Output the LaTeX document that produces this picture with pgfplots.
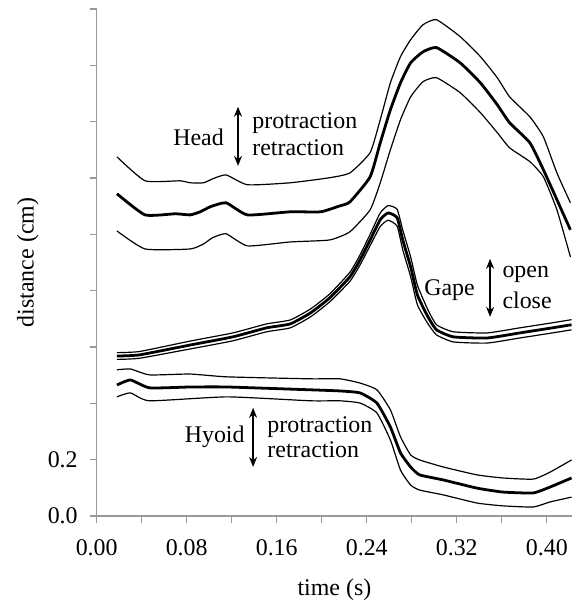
\documentclass[border=0pt]{standalone}
\usepackage{fontspec}
\setmainfont{Liberation Serif}
\usepackage{pgfplots}
\pgfplotsset{compat=1.18}
\usetikzlibrary{arrows.meta}

\begin{document}
\begin{tikzpicture}[font=\fontsize{12}{14}\selectfont]
\path[use as bounding box] (-48.35bp,-44.5bp) rectangle (239.65bp,258bp);
\begin{axis}[
  at={(0,0)}, anchor=south west,
  scale only axis, width=237.7bp, height=253.5bp,
  xmin=0, xmax=0.4225, ymin=0, ymax=1.8,
  axis lines*=left,
  axis line style={black!40, line width=0.6pt},
  tick align=outside, major tick length=3.5bp,
  tick style={black!40, line width=0.6pt},
  xtick={0,0.04,0.08,0.12,0.16,0.20,0.24,0.28,0.32,0.36,0.40},
  xticklabels={0.00,,0.08,,0.16,,0.24,,0.32,,0.40},
  ytick={0,0.2,0.4,0.6,0.8,1.0,1.2,1.4,1.6,1.8},
  yticklabels={0.0,0.2,,,,,,,,},
  tick label style={font=\fontsize{12}{14}\selectfont},
  xticklabel style={yshift=-5bp},
  yticklabel style={xshift=-2.5bp},
  xlabel={time (s)}, ylabel={distance (cm)},
  label style={font=\fontsize{12}{14}\selectfont},
  xlabel style={at={(axis description cs:0.5,-0.145)}, anchor=center},
  ylabel style={at={(axis description cs:-0.145,0.5)}, anchor=center},
  clip=false,
  band/.style={black, line width=0.6pt, line join=round, smooth, tension=0.3},
  avg/.style={black, line width=1.4pt, line join=round, smooth, tension=0.3},
]
% Head
\addplot[band] coordinates {(0.018,1.275) (0.043,1.190) (0.074,1.190) (0.083,1.183) (0.095,1.183) (0.103,1.197) (0.115,1.211) (0.134,1.176) (0.172,1.183) (0.207,1.201) (0.225,1.218) (0.243,1.290) (0.252,1.407) (0.261,1.538) (0.270,1.631) (0.279,1.691) (0.290,1.744) (0.302,1.762) (0.323,1.702) (0.341,1.631) (0.356,1.556) (0.367,1.488) (0.385,1.417) (0.397,1.346) (0.409,1.218) (0.421,1.112)};
\addplot[avg] coordinates {(0.018,1.144) (0.043,1.069) (0.070,1.073) (0.083,1.069) (0.092,1.080) (0.101,1.098) (0.115,1.112) (0.134,1.069) (0.172,1.080) (0.199,1.080) (0.216,1.101) (0.225,1.115) (0.243,1.204) (0.252,1.325) (0.261,1.442) (0.270,1.538) (0.279,1.609) (0.290,1.648) (0.302,1.663) (0.323,1.609) (0.341,1.538) (0.356,1.460) (0.367,1.396) (0.385,1.325) (0.397,1.229) (0.409,1.123) (0.421,1.016)};
\addplot[band] coordinates {(0.018,1.012) (0.043,0.948) (0.083,0.948) (0.095,0.966) (0.103,0.988) (0.115,1.002) (0.134,0.959) (0.172,0.973) (0.207,0.980) (0.225,1.009) (0.243,1.087) (0.252,1.183) (0.261,1.300) (0.270,1.407) (0.279,1.488) (0.290,1.542) (0.302,1.556) (0.323,1.503) (0.341,1.432) (0.356,1.361) (0.367,1.307) (0.385,1.258) (0.397,1.204) (0.409,1.087) (0.421,0.920)};
% Gape
\addplot[band] coordinates {(0.018,0.580) (0.038,0.584) (0.083,0.621) (0.121,0.650) (0.151,0.682) (0.172,0.696) (0.190,0.735) (0.207,0.788) (0.225,0.865) (0.234,0.927) (0.243,1.000) (0.252,1.076) (0.259,1.102) (0.267,1.089) (0.272,1.015) (0.279,0.920) (0.285,0.820) (0.294,0.735) (0.302,0.679) (0.317,0.654) (0.347,0.650) (0.376,0.668) (0.405,0.686) (0.422,0.697)};
\addplot[avg] coordinates {(0.018,0.568) (0.038,0.572) (0.083,0.607) (0.121,0.636) (0.151,0.668) (0.172,0.682) (0.190,0.721) (0.207,0.774) (0.225,0.849) (0.234,0.909) (0.243,0.980) (0.252,1.052) (0.259,1.076) (0.267,1.059) (0.272,0.980) (0.279,0.885) (0.285,0.785) (0.294,0.710) (0.302,0.661) (0.317,0.636) (0.347,0.632) (0.376,0.650) (0.405,0.668) (0.422,0.679)};
\addplot[band] coordinates {(0.018,0.556) (0.038,0.560) (0.083,0.593) (0.121,0.622) (0.151,0.654) (0.172,0.668) (0.190,0.707) (0.207,0.760) (0.225,0.833) (0.234,0.891) (0.243,0.960) (0.252,1.028) (0.259,1.050) (0.267,1.029) (0.272,0.945) (0.279,0.850) (0.285,0.750) (0.294,0.685) (0.302,0.643) (0.317,0.618) (0.347,0.614) (0.376,0.632) (0.405,0.650) (0.422,0.661)};
% Hyoid
\addplot[band] coordinates {(0.018,0.519) (0.030,0.522) (0.047,0.501) (0.083,0.504) (0.116,0.494) (0.190,0.487) (0.216,0.487) (0.234,0.472) (0.249,0.448) (0.261,0.377) (0.270,0.281) (0.279,0.217) (0.287,0.199) (0.308,0.174) (0.338,0.146) (0.361,0.135) (0.388,0.131) (0.403,0.156) (0.422,0.199)};
\addplot[avg] coordinates {(0.018,0.465) (0.030,0.483) (0.047,0.455) (0.083,0.458) (0.116,0.458) (0.190,0.448) (0.216,0.444) (0.234,0.437) (0.249,0.401) (0.261,0.316) (0.270,0.224) (0.279,0.174) (0.287,0.146) (0.308,0.128) (0.338,0.099) (0.361,0.085) (0.388,0.082) (0.403,0.103) (0.422,0.135)};
\addplot[band] coordinates {(0.018,0.423) (0.030,0.437) (0.047,0.409) (0.116,0.423) (0.190,0.409) (0.216,0.409) (0.234,0.401) (0.249,0.366) (0.261,0.270) (0.270,0.163) (0.279,0.110) (0.287,0.092) (0.308,0.075) (0.338,0.046) (0.361,0.036) (0.388,0.032) (0.403,0.050) (0.422,0.067)};
% annotations
\draw[{Stealth[length=5bp,width=4bp]}-{Stealth[length=5bp,width=4bp]}, line width=0.7pt] (axis cs:0.1256,1.453) -- (axis cs:0.1256,1.243);
\node[anchor=east, inner sep=0pt] at (axis cs:0.1133,1.346) {Head};
\node[anchor=west, inner sep=0pt] at (axis cs:0.138,1.396) {protraction};
\node[anchor=west, inner sep=0pt] at (axis cs:0.138,1.307) {retraction};
\draw[{Stealth[length=5bp,width=4bp]}-{Stealth[length=5bp,width=4bp]}, line width=0.7pt] (axis cs:0.3496,0.913) -- (axis cs:0.3496,0.707);
\node[anchor=east, inner sep=0pt] at (axis cs:0.3363,0.803) {Gape};
\node[anchor=west, inner sep=0pt] at (axis cs:0.3603,0.856) {open};
\node[anchor=west, inner sep=0pt] at (axis cs:0.3603,0.767) {close};
\draw[{Stealth[length=5bp,width=4bp]}-{Stealth[length=5bp,width=4bp]}, line width=0.7pt] (axis cs:0.139,0.384) -- (axis cs:0.139,0.174);
\node[anchor=east, inner sep=0pt] at (axis cs:0.1318,0.281) {Hyoid};
\node[anchor=west, inner sep=0pt] at (axis cs:0.1514,0.316) {protraction};
\node[anchor=west, inner sep=0pt] at (axis cs:0.1514,0.234) {retraction};
\end{axis}
\end{tikzpicture}
\end{document}
